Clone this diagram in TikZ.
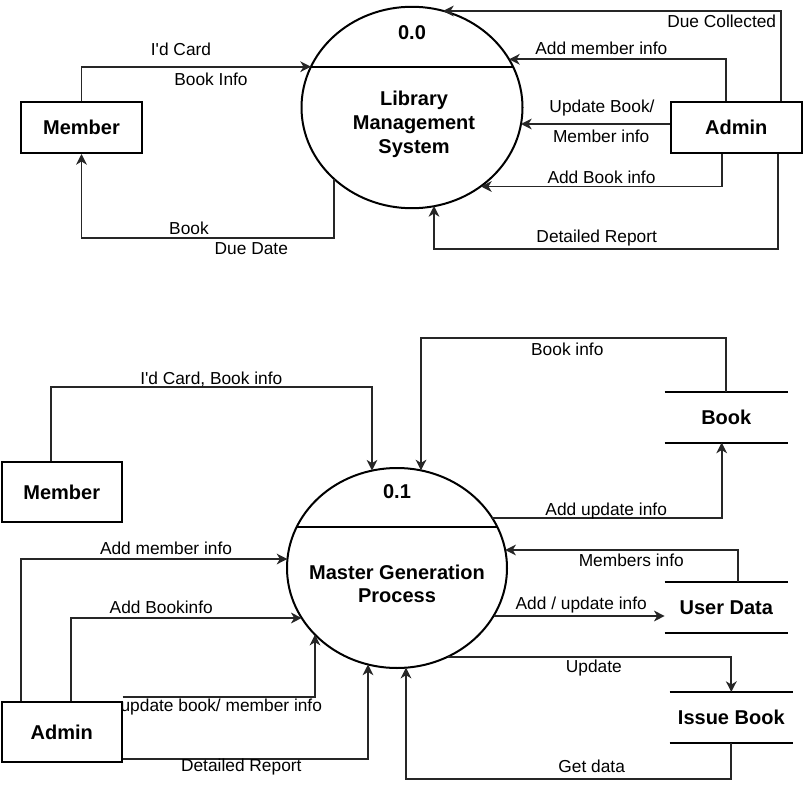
\documentclass[tikz,border=0pt]{standalone}
\usepackage{fontspec}
\setmainfont{Liberation Sans}
\usetikzlibrary{shapes.geometric,arrows.meta,calc}
\tikzstyle{entity}=[draw, line width=1.5pt, inner sep=0pt, font=\bfseries\fontsize{15}{18}\selectfont]
\tikzstyle{process}=[ellipse, draw, line width=1.5pt, inner sep=0pt, outer sep=0pt]
\tikzstyle{store}=[inner sep=0pt, font=\bfseries\fontsize{15}{18}\selectfont]
\tikzstyle{title}=[inner sep=0pt, align=center, font=\bfseries\fontsize{15}{18}\selectfont]
\tikzstyle{lbl}=[inner sep=0pt, font=\fontsize{13}{15.6}\selectfont]
\tikzstyle{flow}=[-{Stealth[length=8pt,width=8pt,inset=2.4pt]}, line width=1.4pt, draw=black!85]

\begin{document}
\begin{tikzpicture}[x=0.75pt, y=-0.75pt]
		   \useasboundingbox (0,0) rectangle (803,788);
		   % context level
		   \begin{scope}
			   \node (lms) at (412,107.5)[process, minimum width=165.75pt, minimum height=151.1pt] {};
			   \node (lmsid) at (412,32.7)[title] {0.0};
			   \node (lmsname) at (414,124)[title] {Library\\Management\\System};
			   \node (member) at (81.5,127.5)[entity, minimum width=90.75pt, minimum height=38.25pt] {Member};
			   \node (admin) at (736.2,127.2)[entity, minimum width=98.25pt, minimum height=38.25pt] {Admin};
			   \coordinate (lmsL) at (311,66.7);
			   \coordinate (lmsR) at (513,66.7);
			   \coordinate (lmsT) at (443,11);
			   \coordinate (lmsR1) at (509,59.3);
			   \coordinate (lmsR2) at (521,124);
			   \coordinate (lmsR3) at (481,186.5);
			   \coordinate (lmsB) at (434,206);
			   \coordinate (lmsBL) at (334,179);
		   \end{scope}
		   \begin{scope}
			   \path [-, line width=1.5pt] (lmsL) edge (lmsR);
			   \draw [flow] (member.north) |- (lmsL);
			   \draw [flow] (lmsBL) -- ++(0,59.3) -| (member.south);
			   \draw [flow] ($(admin.north)+(45,0)$) |- (lmsT);
			   \draw [flow] ($(admin.north)+(-10,0)$) |- (lmsR1);
			   \draw [flow] (admin.west |- lmsR2) -- (lmsR2);
			   \draw [flow] ($(admin.south)+(-14.5,0)$) |- (lmsR3);
			   \draw [flow] ($(admin.south)+(42,0)$) -- ++(0,95.5) -| (lmsB);
		   \end{scope}
		   \begin{scope}
			   \node (l1) at (181,49.3)[lbl] {I\textquotesingle d Card};
			   \node (l2) at (211,79)[lbl] {Book Info};
			   \node (l3) at (189,228.3)[lbl] {Book};
			   \node (l4) at (251.3,248.3)[lbl] {Due Date};
			   \node (l5) at (721.7,21.7)[lbl] {Due Collected};
			   \node (l6) at (601.3,48.3)[lbl] {Add member info};
			   \node (l7) at (602,108.3)[lbl] {Update Book/};
			   \node (l8) at (601.2,136.7)[lbl] {Member info};
			   \node (l9) at (601.5,177.3)[lbl] {Add Book info};
			   \node (l10) at (596.7,237.7)[lbl] {Detailed Report};
		   \end{scope}
		   % level 1
		   \begin{scope}
			   \node (mgp) at (397,568)[process, minimum width=165pt, minimum height=150pt] {};
			   \node (mgpid) at (397,491.7)[title] {0.1};
			   \node (mgpname) at (397,583.7)[title, font=\bfseries\fontsize{15}{17}\selectfont] {Master Generation\\Process};
			   \node (member2) at (61.7,492.3)[entity, minimum width=90pt, minimum height=45pt] {Member};
			   \node (admin2) at (61.7,732.3)[entity, minimum width=90pt, minimum height=45pt] {Admin};
			   \node (book) at (726.3,417.3)[store, minimum width=92pt, minimum height=37.5pt] {Book};
			   \node (userdata) at (726.3,607.3)[store, minimum width=92pt, minimum height=37.5pt] {User Data};
			   \node (issue) at (731.3,717.3)[store, minimum width=92pt, minimum height=37.5pt] {Issue Book};
			   \coordinate (mgpL) at (296.7,527);
			   \coordinate (mgpR) at (497.3,527);
			   \coordinate (mgpT1) at (372,470.6);
			   \coordinate (mgpT2) at (421,470.4);
			   \coordinate (mgpR1) at (492.3,518);
			   \coordinate (mgpR2) at (505.2,550);
			   \coordinate (mgpR3) at (493.5,616);
			   \coordinate (mgpB1) at (448,656.6);
			   \coordinate (mgpB2) at (406,667.7);
			   \coordinate (mgpL1) at (287.4,559);
			   \coordinate (mgpL2) at (301.7,618);
			   \coordinate (mgpB3) at (315,634.7);
			   \coordinate (mgpB4) at (368,664.5);
		   \end{scope}
		   \begin{scope}
			   \path [-, line width=1.5pt] (mgpL) edge (mgpR);
			   \path [-, line width=1.5pt] (book.north west) edge (book.north east);
			   \path [-, line width=1.5pt] (book.south west) edge (book.south east);
			   \path [-, line width=1.5pt] (userdata.north west) edge (userdata.north east);
			   \path [-, line width=1.5pt] (userdata.south west) edge (userdata.south east);
			   \path [-, line width=1.5pt] (issue.north west) edge (issue.north east);
			   \path [-, line width=1.5pt] (issue.south west) edge (issue.south east);
			   \draw [flow] ($(member2.north)+(-10.7,0)$) -- ++(0,-74) -| (mgpT1);
			   \draw [flow] (book.north) -- ++(0,-54) -| (mgpT2);
			   \draw [flow] (mgpR1) -| ($(book.south)+(-4.6,0)$);
			   \draw [flow] ($(userdata.north)+(12,0)$) |- (mgpR2);
			   \draw [flow] (mgpR3) -- (mgpR3 -| userdata.west);
			   \draw [flow] (mgpB1) -| (issue.north);
			   \draw [flow] (issue.south) -- ++(0,36) -| (mgpB2);
			   \draw [flow] ($(admin2.north)+(-40.7,0)$) |- (mgpL1);
			   \draw [flow] ($(admin2.north)+(9.3,0)$) |- (mgpL2);
			   \draw [flow] ($(admin2.north east)+(0,-4)$) -| (mgpB3);
			   \draw [flow] ($(admin2.south east)+(0,-4)$) -| (mgpB4);
		   \end{scope}
		   \begin{scope}
			   \node (m1) at (211.3,379.3)[lbl] {I\textquotesingle d Card, Book info};
			   \node (m2) at (567.3,349.3)[lbl] {Book info};
			   \node (m3) at (606.2,510.7)[lbl] {Add update info};
			   \node (m4) at (631.3,560)[lbl] {Members info};
			   \node (m5) at (581.2,605)[lbl] {Add / update info};
			   \node (m6) at (593.8,668.3)[lbl] {Update};
			   \node (m7) at (591.7,766)[lbl] {Get data};
			   \node (m8) at (166,548.3)[lbl] {Add member info};
			   \node (m9) at (161.3,607.3)[lbl] {Add Bookinfo};
			   \node (m10) at (221.3,707.3)[lbl] {update book/ member info};
			   \node (m11) at (241.3,767.3)[lbl] {Detailed Report};
		   \end{scope}
	   \end{tikzpicture}
\end{document}
